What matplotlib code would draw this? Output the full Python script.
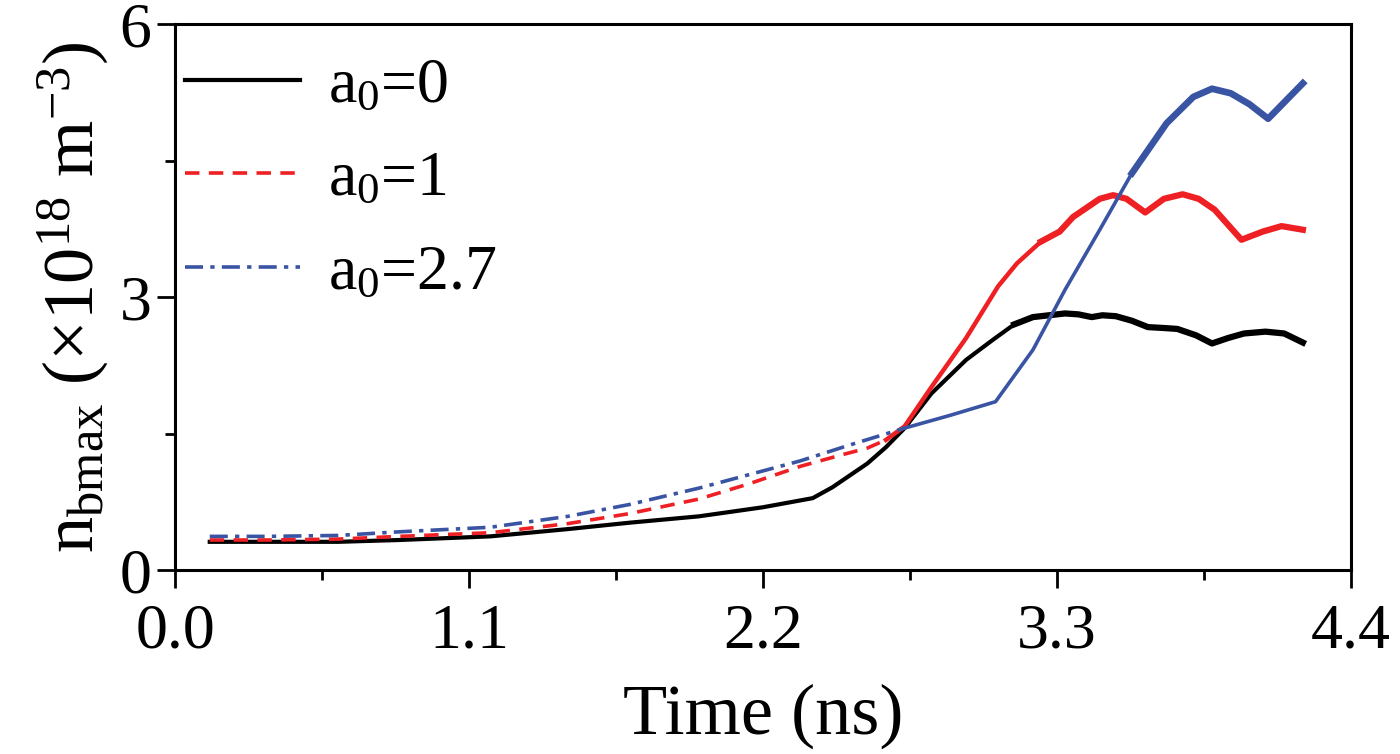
import numpy as np
import matplotlib
matplotlib.use('Agg')
import matplotlib.pyplot as plt

# values
t_a0 = [0.13, 0.35, 0.61, 0.84, 1.18, 1.47, 1.70, 1.96, 2.20, 2.386, 2.46, 2.52, 2.59,
        2.66, 2.73, 2.83, 2.96, 3.06, 3.14, 3.21, 3.27, 3.33, 3.38, 3.43, 3.47, 3.52,
        3.58, 3.64, 3.70, 3.75, 3.82, 3.88, 3.94, 4.00, 4.08, 4.15, 4.22]
n_a0 = [0.31, 0.31, 0.31, 0.33, 0.37, 0.45, 0.52, 0.59, 0.69, 0.79, 0.91, 1.03, 1.17,
        1.35, 1.56, 1.94, 2.31, 2.53, 2.70, 2.78, 2.80, 2.82, 2.81, 2.78, 2.80, 2.79,
        2.74, 2.67, 2.66, 2.65, 2.58, 2.49, 2.55, 2.60, 2.62, 2.60, 2.50]

t_a1 = [0.13, 0.35, 0.61, 0.84, 1.18, 1.47, 1.70, 1.96, 2.15, 2.34, 2.50, 2.59, 2.66,
        2.73, 2.83, 2.96, 3.08, 3.15, 3.24, 3.31, 3.36, 3.46, 3.51, 3.56, 3.63, 3.70,
        3.77, 3.83, 3.89, 3.99, 4.07, 4.14, 4.22]
n_a1 = [0.33, 0.33, 0.34, 0.37, 0.41, 0.51, 0.62, 0.78, 0.95, 1.14, 1.27, 1.34, 1.43,
        1.58, 2.01, 2.55, 3.12, 3.37, 3.61, 3.72, 3.88, 4.08, 4.12, 4.08, 3.93, 4.08,
        4.13, 4.08, 3.96, 3.63, 3.72, 3.78, 3.74]

t_a27 = [0.13, 0.35, 0.61, 0.84, 1.18, 1.47, 1.70, 1.96, 2.15, 2.34, 2.52, 2.73, 2.90,
         3.07, 3.21, 3.33, 3.46, 3.58, 3.71, 3.81, 3.88, 3.95, 4.02, 4.09, 4.15, 4.22]
n_a27 = [0.37, 0.37, 0.38, 0.42, 0.47, 0.59, 0.72, 0.90, 1.05, 1.20, 1.37, 1.56, 1.70,
         1.85, 2.42, 3.08, 3.74, 4.36, 4.91, 5.20, 5.29, 5.24, 5.12, 4.96, 5.14, 5.35]

labels = [r'$\mathrm{a_0}$=0', r'$\mathrm{a_0}$=1', r'$\mathrm{a_0}$=2.7']
x_ticks = [0.0, 1.1, 2.2, 3.3, 4.4]
y_ticks = [0, 3, 6]

plt.rcParams['font.family'] = ['Liberation Serif', 'DejaVu Serif']
plt.rcParams['mathtext.fontset'] = 'custom'
plt.rcParams['mathtext.rm'] = 'Liberation Serif'
plt.rcParams['mathtext.it'] = 'Liberation Serif:italic'

fig = plt.figure(figsize=(14, 7.54), dpi=100)
ax = fig.add_axes([0.125, 0.244, 0.84, 0.724])

black = '#000000'
red = '#ee2024'
blue = '#3a54a4'
split = 2.72

# black solid, thicker where the data gets noisy
t0 = np.array(t_a0); n0 = np.array(n_a0)
ax.plot(t0, n0, color=black, lw=3, label=labels[0])
ax.plot(t0[t0 >= 3.14], n0[t0 >= 3.14], color=black, lw=4.5)

# red: dashed at first, solid later
t1 = np.array(t_a1); n1 = np.array(n_a1)
m = t1 <= split
ax.plot(t1[m], n1[m], color=red, lw=2.6, dashes=(4, 2.6), label=labels[1])
ax.plot(t1[t1 >= 2.66], n1[t1 >= 2.66], color=red, lw=3.2)
ax.plot(t1[t1 >= 3.24], n1[t1 >= 3.24], color=red, lw=4.5)

# blue: dash-dot at first, solid later
t2 = np.array(t_a27); n2 = np.array(n_a27)
m = t2 <= split + 0.01
ax.plot(t2[m], n2[m], color=blue, lw=2.6, dashes=(5, 2, 1.2, 2), label=labels[2])
ax.plot(t2[t2 >= 2.70], n2[t2 >= 2.70], color=blue, lw=2.6)
ax.plot(t2[t2 >= 3.58], n2[t2 >= 3.58], color=blue, lw=4.8)

ax.set_xlim(0, 4.4)
ax.set_ylim(0, 6)
ax.set_xticks(x_ticks)
ax.set_xticklabels(['%.1f' % v for v in x_ticks])
ax.set_yticks(y_ticks)
ax.set_xticks([0.55, 1.65, 2.75, 3.85], minor=True)
ax.set_yticks([1.5, 4.5], minor=True)
ax.tick_params(which='major', direction='out', length=13, width=2, labelsize=46, pad=4)
ax.tick_params(axis='x', which='major', pad=11)
ax.tick_params(which='minor', direction='out', length=7, width=2)
for s in ax.spines.values():
    s.set_linewidth(2.2)

ax.set_xlabel('Time (ns)', fontsize=52, labelpad=16)
ax.set_ylabel(r'$\mathrm{n_{bmax}}$ (×10$^{18}$ m$^{-3}$)', fontsize=52, labelpad=6)

ax.legend(loc='upper left', frameon=False, fontsize=46, handlelength=1.8,
          handletextpad=0.45, labelspacing=0.55, borderaxespad=0.05, borderpad=0.1,
          bbox_to_anchor=(0.0, 0.957))

fig.savefig('out.png', dpi=100)
